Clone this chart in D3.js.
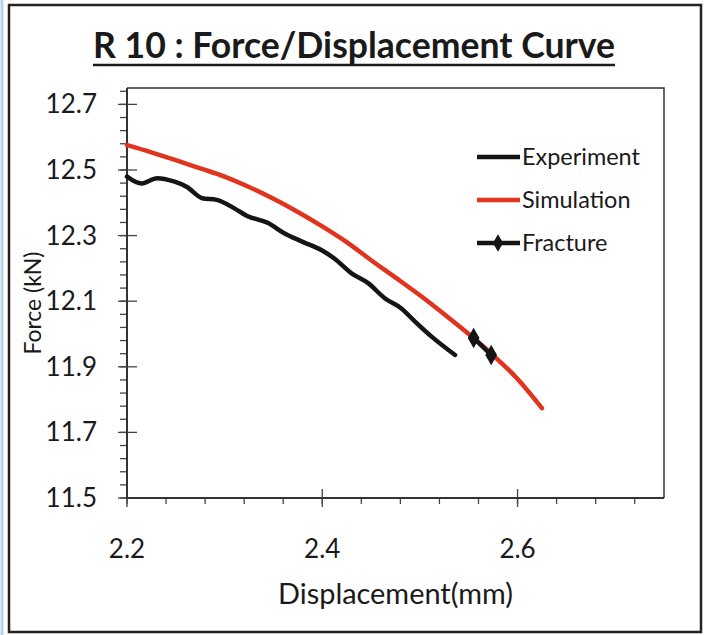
<!DOCTYPE html>
<html>
<head>
<meta charset="utf-8">
<script src="https://d3js.org/d3.v7.min.js"></script>
<style>
  body { margin: 0; background: #fff; }
  text { font-family: Lato, "Open Sans", sans-serif; fill: #1a1a1a; }
</style>
</head>
<body>
<div id="chart"></div>
<script>
// Data
const xTicks = [2.2, 2.4, 2.6]
const yTicks = [11.5, 11.7, 11.9, 12.1, 12.3, 12.5, 12.7]

const expX = [2.200, 2.215, 2.231, 2.248, 2.261, 2.277, 2.292, 2.310, 2.323, 2.344, 2.361,
              2.380, 2.399, 2.412, 2.430, 2.447, 2.464, 2.481, 2.495, 2.512, 2.536]
const expY = [12.480, 12.459, 12.475, 12.465, 12.449, 12.414, 12.409, 12.383, 12.360, 12.339, 12.307,
              12.281, 12.256, 12.231, 12.185, 12.155, 12.109, 12.078, 12.038, 11.992, 11.936]

const simX = [2.200, 2.225, 2.250, 2.275, 2.300, 2.325, 2.350, 2.375, 2.400, 2.425,
              2.450, 2.475, 2.500, 2.525, 2.550, 2.575, 2.600, 2.625]
const simY = [12.576, 12.554, 12.530, 12.505, 12.480, 12.448, 12.412, 12.372, 12.328, 12.280,
              12.225, 12.172, 12.118, 12.060, 12.000, 11.935, 11.863, 11.774]

const fracX = [2.555, 2.573]
const fracY = [11.988, 11.936]

const seriesNames = ["Experiment", "Simulation", "Fracture"]
const seriesColors = ["#151515", "#e0341f", "#151515"]

// Dimensions
const dims = { width: 708, height: 635, left: 127, right: 664, top: 88, bottom: 498 }

const svg = d3.select("#chart")
  .append("svg")
  .attr("width", dims.width)
  .attr("height", dims.height)

// fit a text element to a target width
function fit(sel, w) {
  const len = sel.node().getComputedTextLength()
  const fs = parseFloat(sel.attr("font-size"))
  sel.attr("font-size", fs * w / len)
  return sel
}

// outer frame
svg.append("line")
  .attr("x1", 2).attr("x2", 2).attr("y1", 0).attr("y2", dims.height)
  .attr("stroke", "#b9d3e8").attr("stroke-width", 3)
svg.append("rect")
  .attr("x", 9).attr("y", 5)
  .attr("width", 692).attr("height", 627)
  .attr("fill", "none").attr("stroke", "#222").attr("stroke-width", 2.5)

// Title
const title = svg.append("text")
  .attr("x", 354).attr("y", 58)
  .attr("text-anchor", "middle")
  .attr("font-size", 32).attr("font-weight", "bold")
  .text("R 10 : Force/Displacement Curve")
fit(title, 522)
svg.append("line")
  .attr("x1", 354 - 261).attr("x2", 354 + 261)
  .attr("y1", 65).attr("y2", 65)
  .attr("stroke", "#1a1a1a").attr("stroke-width", 2.5)

// Scales
const xScale = d3.scaleLinear().domain([2.2, 2.75]).range([dims.left, dims.right])
const yScale = d3.scaleLinear().domain([11.5, 12.75]).range([dims.bottom, dims.top])

// plot frame (top/right)
svg.append("path")
  .attr("d", `M${dims.left},${dims.top}H${dims.right}V${dims.bottom}`)
  .attr("fill", "none").attr("stroke", "#333").attr("stroke-width", 1.5)

// minor ticks
const xMinor = d3.range(0, 14).map(i => +(2.2 + i * 0.04).toFixed(2))
const yMinor = d3.range(0, 32).map(i => +(11.5 + i * 0.04).toFixed(2))

const g = svg.append("g").attr("stroke", "#444").attr("stroke-width", 1.3)
g.selectAll(".xminor").data(xMinor).join("line")
  .attr("x1", d => xScale(d)).attr("x2", d => xScale(d))
  .attr("y1", dims.bottom).attr("y2", dims.bottom + 6)
g.selectAll(".yminor").data(yMinor).join("line")
  .attr("y1", d => yScale(d)).attr("y2", d => yScale(d))
  .attr("x1", dims.left - 7).attr("x2", dims.left)
g.selectAll(".xmajor").data(xTicks).join("line")
  .attr("x1", d => xScale(d)).attr("x2", d => xScale(d))
  .attr("y1", dims.bottom - 9).attr("y2", dims.bottom + 9)
g.selectAll(".ymajor").data(yTicks).join("line")
  .attr("y1", d => yScale(d)).attr("y2", d => yScale(d))
  .attr("x1", dims.left - 9).attr("x2", dims.left + 10)

// axis lines
svg.append("path")
  .attr("d", `M${dims.left},${dims.top}V${dims.bottom}H${dims.right}`)
  .attr("fill", "none").attr("stroke", "#333").attr("stroke-width", 2)

// tick labels
svg.selectAll(".ylab").data(yTicks).join("text")
  .attr("x", 97).attr("y", d => yScale(d) + 9)
  .attr("text-anchor", "end").attr("font-size", 26)
  .text(d => d.toFixed(1))
svg.selectAll(".xlab").data(xTicks).join("text")
  .attr("x", d => xScale(d)).attr("y", 558)
  .attr("text-anchor", "middle").attr("font-size", 26)
  .text(d => d.toFixed(1))

// axis titles
const xt = svg.append("text")
  .attr("x", (dims.left + dims.right) / 2).attr("y", 604)
  .attr("text-anchor", "middle").attr("font-size", 24)
  .text("Displacement(mm)")
fit(xt, 235)
const yt = svg.append("text")
  .attr("transform", `translate(41,${(dims.top + dims.bottom) / 2 + 10}) rotate(-90)`)
  .attr("text-anchor", "middle").attr("font-size", 24)
  .text("Force (kN)")
fit(yt, 103)

// lines
const line = d3.line().x(d => xScale(d[0])).y(d => yScale(d[1])).curve(d3.curveMonotoneX)

svg.append("path")
  .datum(simX.map((x, i) => [x, simY[i]]))
  .attr("d", line)
  .attr("fill", "none").attr("stroke", seriesColors[1])
  .attr("stroke-width", 4.5).attr("stroke-linecap", "round")

svg.append("path")
  .datum(expX.map((x, i) => [x, expY[i]]))
  .attr("d", line)
  .attr("fill", "none").attr("stroke", seriesColors[0])
  .attr("stroke-width", 4.5).attr("stroke-linecap", "round").attr("stroke-linejoin", "round")

const frac = fracX.map((x, i) => [x, fracY[i]])
svg.append("path")
  .datum(frac)
  .attr("d", d3.line().x(d => xScale(d[0])).y(d => yScale(d[1])))
  .attr("fill", "none").attr("stroke", seriesColors[2]).attr("stroke-width", 4.5)
svg.selectAll(".frac").data(frac).join("path")
  .attr("transform", d => `translate(${xScale(d[0])},${yScale(d[1])})`)
  .attr("d", d3.symbol(d3.symbolDiamond, 120))
  .attr("fill", seriesColors[2])

// legend
const legY = [157, 200, 243]
const leg = svg.selectAll(".leg").data(seriesNames).join("g")
  .attr("transform", (d, i) => `translate(477,${legY[i]})`)
leg.append("line")
  .attr("x1", 0).attr("x2", 43)
  .attr("stroke", (d, i) => seriesColors[i]).attr("stroke-width", 4.5)
leg.filter((d, i) => i === 2).append("path")
  .attr("transform", "translate(21,0)")
  .attr("d", d3.symbol(d3.symbolDiamond, 90))
  .attr("fill", seriesColors[2])
const legText = leg.append("text")
  .attr("x", 45).attr("y", 8)
  .attr("font-size", 22)
  .text(d => d)
const s = 118 / legText.filter((d, i) => i === 0).node().getComputedTextLength()
legText.attr("font-size", 22 * s)
</script>
</body>
</html>
